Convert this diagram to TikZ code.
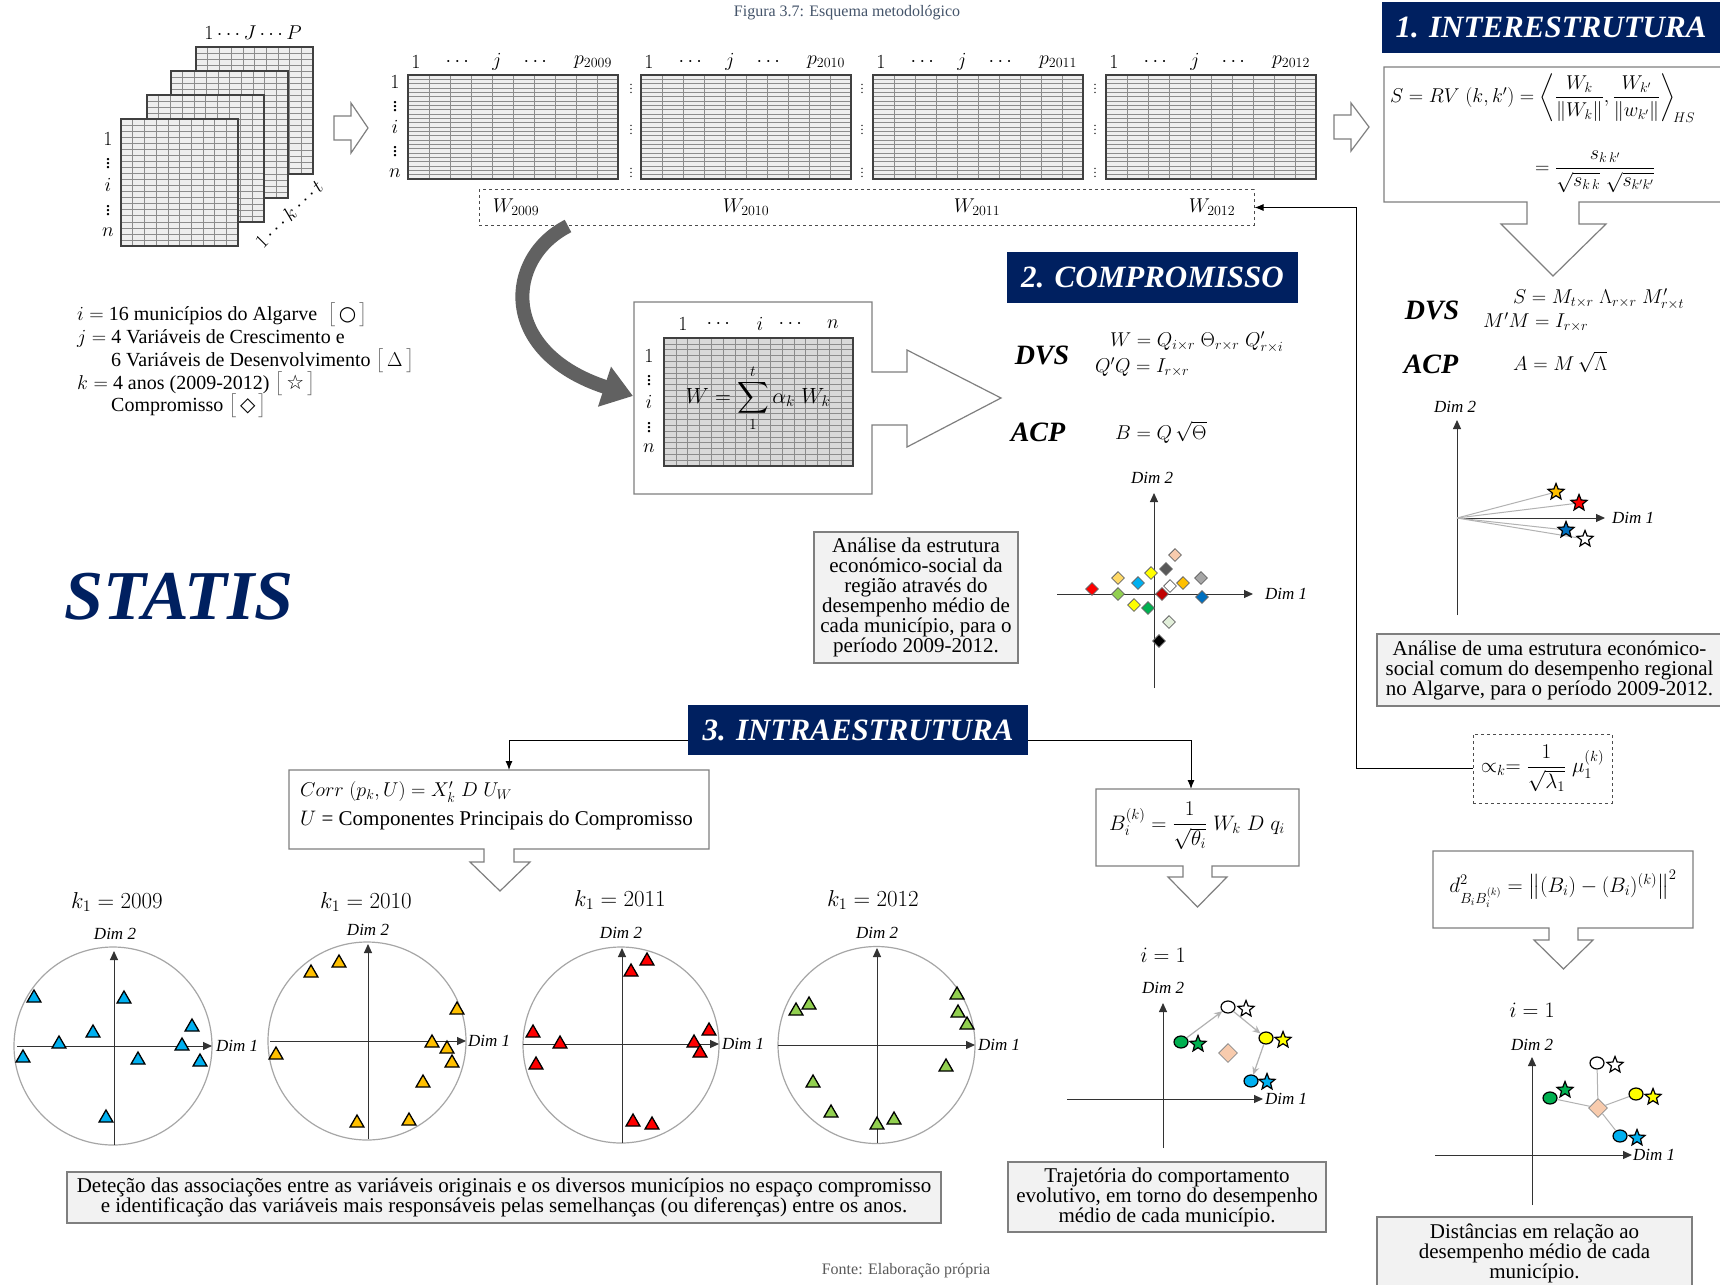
\RequirePackage{fix-cm}
\documentclass[tikz,border=0pt]{standalone}
\usepackage{amsmath,amssymb}
\usepackage{fontspec}
\setmainfont{Liberation Serif}
\newfontfamily\symf{DejaVu Sans}
\usetikzlibrary{shapes.geometric,arrows.meta,calc}
\definecolor{navy}{HTML}{002060}
\definecolor{boxgray}{HTML}{F2F2F2}
\definecolor{edgegray}{HTML}{7F7F7F}
\definecolor{matfill}{HTML}{EEEEEE}
\definecolor{wfill}{HTML}{D9D9D9}
\definecolor{cBlue}{HTML}{00B0F0}
\definecolor{cOrange}{HTML}{FFC000}
\definecolor{cRed}{HTML}{FF0000}
\definecolor{cLGreen}{HTML}{92D050}
\definecolor{cGreen}{HTML}{00B050}
\definecolor{cDBlue}{HTML}{0070C0}
\definecolor{cYellow}{HTML}{FFFF00}
\definecolor{cPeach}{HTML}{F8CBAD}
\definecolor{cGold}{HTML}{FFD966}
\definecolor{cDRed}{HTML}{C00000}
\definecolor{cDGray}{HTML}{595959}
\definecolor{cMGray}{HTML}{A6A6A6}
\definecolor{cPale}{HTML}{E2EFDA}
\definecolor{capcol}{HTML}{44546A}
\newcommand\gridmat[7]{%
  \fill[#7] (#1,#2) rectangle (#3,#4);
  \pgfmathsetmacro\gdx{(#3-#1)/#5}
  \pgfmathsetmacro\gdy{(#4-#2)/#6}
  \foreach \gc in {1,...,#5}{\draw[gridline] ({#1+\gc*\gdx},#2) -- ({#1+\gc*\gdx},#4);}
  \foreach \gr in {1,...,#6}{\draw[gridline] (#1,{#2+\gr*\gdy}) -- (#3,{#2+\gr*\gdy});}
  \draw[gridframe] (#1,#2) rectangle (#3,#4);
}
\newcommand\brk[1]{{\color{black!60}$\bigl[$}\,#1\,{\color{black!60}$\bigr]$}}
\begin{document}
\begin{tikzpicture}[x=1pt,y=-1pt,
  txt/.style={font=\fontsize{20}{21}\selectfont, inner sep=0pt},
  mth/.style={font=\fontsize{20}{21}\selectfont, inner sep=0pt},
  dim/.style={font=\itshape\fontsize{17}{17}\selectfont, inner sep=0pt},
  ttl/.style={fill=navy, text=white, font=\bfseries\itshape\fontsize{31}{32}\selectfont, inner sep=0pt},
  big/.style={font=\bfseries\itshape\fontsize{28}{28}\selectfont, inner sep=0pt},
  note/.style={draw=edgegray, fill=boxgray, line width=1.5pt, align=center, font=\fontsize{21}{20}\selectfont, inner sep=0pt},
  outl/.style={draw=edgegray, line width=1.2pt, fill=white},
  ax/.style={draw=black!80, line width=1pt, -{Triangle[length=9pt,width=8pt]}},
  ring/.style={draw=black!35, line width=1.2pt},
  tri/.style={regular polygon, regular polygon sides=3, draw=black, line width=1.3pt, minimum size=16pt, inner sep=0pt},
  dia/.style={diamond, draw=black!60, line width=0.8pt, minimum size=13pt, inner sep=0pt},
  sta/.style={star, star points=5, star point ratio=2.3, draw=black, line width=1.2pt, minimum size=17pt, inner sep=0pt},
  dot/.style={ellipse, draw=black, line width=1.2pt, minimum width=14pt, minimum height=12pt, inner sep=0pt},
  gridline/.style={draw=black!45, line width=0.6pt},
  gridframe/.style={draw=black!75, line width=1.2pt},
  conn/.style={draw=black, line width=1pt, -{Latex[length=9pt,width=7pt]}},
  ray/.style={draw=black!30, line width=1pt},
  garrow/.style={draw=black!30, line width=1.2pt, -{Stealth[length=8pt,width=7pt]}}
]
\useasboundingbox (0,0) rectangle (1720,1284);
\fill[white] (0,0) rectangle (1720,1284);

% captions
\node[font=\fontsize{16}{16}\selectfont, text=capcol] (cap) at (847,13) {Figura 3.7: Esquema metodológico};
\node[font=\fontsize{16}{16}\selectfont, text=black!65] (src) at (906,1271) {Fonte: Elaboração própria};

% stacked matrices
\gridmat{196}{47}{313}{174}{10}{21}{matfill}
\gridmat{171}{71}{288}{198}{10}{21}{matfill}
\gridmat{147}{95}{264}{222}{10}{21}{matfill}
\gridmat{121}{119}{238}{246}{10}{21}{matfill}
\node[mth] (jl) at (253,33) {$1\cdots J\cdots P$};
\node[mth] (sr1) at (108,139) {$1$};
\node[mth] (sr2) at (108,161) {$\vdots$};
\node[mth] (sr3) at (108,185) {$i$};
\node[mth] (sr4) at (108,208) {$\vdots$};
\node[mth] (sr5) at (108,232) {$n$};
\node[mth, rotate=45] (kl) at (289,214) {$1\cdots k\cdots t$};
\draw[outl] (334,116) -- (351,116) -- (351,103) -- (368,128) -- (351,153) -- (351,140) -- (334,140) -- cycle;

% legend
\node[txt, anchor=west] (l1) at (77,315) {$i=$ 16 municípios do Algarve \ \brk{{\symf ○}}};
\node[txt, anchor=west] (l2) at (77,338) {$j=$ 4 Variáveis de Crescimento e};
\node[txt, anchor=west] (l3) at (111,361) {6 Variáveis de Desenvolvimento \brk{$\Delta$}};
\node[txt, anchor=west] (l4) at (77,384) {$k=$ 4 anos (2009-2012) \brk{{\symf ☆}}};
\node[txt, anchor=west] (l5) at (111,406) {Compromisso \brk{{\symf ◇}}};

% wide matrices
\foreach \yr/\x in {2009/408,2010/641,2011/873,2012/1106}{
  \gridmat{\x}{75}{\x+210}{179}{10}{24}{matfill}
  \node[mth] (ca\yr) at (\x+8,62) {$1$};
  \node[mth] (cb\yr) at (\x+51,62) {$\cdots$};
  \node[mth] (cc\yr) at (\x+89,62) {$j$};
  \node[mth] (cd\yr) at (\x+129,62) {$\cdots$};
  \node[mth] (ce\yr) at (\x+185,62) {$p_{\yr}$};
}
\node[mth] (wr1) at (395,82) {$1$};
\node[mth] (wr2) at (395,104) {$\vdots$};
\node[mth] (wr3) at (395,127) {$i$};
\node[mth] (wr4) at (395,149) {$\vdots$};
\node[mth] (wr5) at (395,173) {$n$};
\foreach \sx in {631,862,1095}{
  \foreach \sy in {86,127,170}{
    \node[font=\fontsize{12}{12}\selectfont, inner sep=0pt] at (\sx,\sy) {$\vdots$};
  }
}
\node[draw=black!70, dashed, line width=1pt, minimum width=775, minimum height=35, inner sep=0pt] (wbox) at (866.5,207.5) {};
\node[mth] (w09) at (516,207) {$W_{2009}$};
\node[mth] (w10) at (746,207) {$W_{2010}$};
\node[mth] (w11) at (977,207) {$W_{2011}$};
\node[mth] (w12) at (1212,207) {$W_{2012}$};
\draw[outl] (1334,115) -- (1351,115) -- (1351,103) -- (1369,127) -- (1351,151) -- (1351,139) -- (1334,139) -- cycle;

% 1. INTERESTRUTURA
\node[ttl, minimum width=338, minimum height=51] (t1) at (1551,27.5) {1. INTERESTRUTURA};
\draw[outl] (1384,67) -- (1722,67) -- (1722,202) -- (1579,202) -- (1579,224) -- (1606,224) -- (1553,276) -- (1501,224) -- (1527,224) -- (1527,202) -- (1384,202) -- cycle;
\node[mth, anchor=west] (s1) at (1390,98) {$S = RV\;(k,k') = \left\langle \dfrac{W_k}{\|W_k\|}, \dfrac{W_{k'}}{\|w_{k'}\|}\right\rangle_{\!HS}$};
\node[mth, anchor=west] (s2) at (1535,172) {$= \dfrac{s_{k\,k'}}{\sqrt{s_{k\,k}}\;\sqrt{s_{k'k'}}}$};
\node[big] (dvs1) at (1432,310) {DVS};
\node[mth, anchor=west] (f1a) at (1513,299) {$S = M_{t\times r}\;\Lambda_{r\times r}\;M'_{r\times t}$};
\node[mth, anchor=west] (f1b) at (1483,322) {$M'M = I_{r\times r}$};
\node[big] (acp1) at (1431,364) {ACP};
\node[mth, anchor=west] (f1c) at (1513,362) {$A = M\,\sqrt{\Lambda}$};

\coordinate (o1) at (1457,518);
\draw[ax] (1457,615) -- (1457,420);
\draw[ax] (o1) -- (1605,518);
\node[dim] (d2a) at (1455,407) {Dim 2};
\node[dim, anchor=west] (d1a) at (1612,518) {Dim 1};
\coordinate (sa) at (1556,492);
\coordinate (sb) at (1579,503);
\coordinate (sc) at (1566,530);
\coordinate (sd) at (1585,539);
\draw[ray] (o1) -- (sa);
\draw[ray] (o1) -- (sb);
\draw[ray] (o1) -- (sc);
\draw[ray] (o1) -- (sd);
\node[sta, fill=cOrange] (nsa) at (sa) {};
\node[sta, fill=cRed] (nsb) at (sb) {};
\node[sta, fill=cDBlue] (nsc) at (sc) {};
\node[sta, fill=white] (nsd) at (sd) {};
\node[note, minimum width=345, minimum height=72] (n1) at (1549.5,670) {Análise de uma estrutura económico-\\social comum do desempenho regional\\no Algarve, para o período 2009-2012.};
\node[font=\fontsize{21}{21}\selectfont, inner sep=0pt, draw=black!70, dashed, line width=1pt, minimum width=139, minimum height=69] (alpha) at (1542.5,768.5) {$\propto_k = \dfrac{1}{\sqrt{\lambda_1}}\;\mu_1^{(k)}$};
\coordinate (wturn) at (1356,207.5);
\draw[conn] (alpha.west) -| (wturn) -- (wbox.east);

% 2. COMPROMISSO
\node[ttl, minimum width=291, minimum height=51] (t2) at (1152.5,277.5) {2. COMPROMISSO};
\node[big] (dvs2) at (1042,355) {DVS};
\node[mth, anchor=west] (f2a) at (1110,342) {$W = Q_{i\times r}\;\Theta_{r\times r}\;Q'_{r\times i}$};
\node[mth, anchor=west] (f2b) at (1095,367) {$Q'Q = I_{r\times r}$};
\node[big] (acp2) at (1038,432) {ACP};
\node[mth, anchor=west] (f2c) at (1115,432) {$B = Q\,\sqrt{\Theta}$};
\draw[ax] (1154,688) -- (1154,493);
\draw[ax] (1057,594) -- (1253,594);
\node[dim] (d2b) at (1152,478) {Dim 2};
\node[dim, anchor=west] (d1b) at (1265,594) {Dim 1};
\foreach \px/\py/\cc [count=\n] in {1175/555/cPeach,1166/569/cDGray,1151/573/cYellow,1118/578/cGold,1138/583/cBlue,1170/586/white,1183/583/cOrange,1201/578/cMGray,1092/589/cRed,1118/594/cLGreen,1162/594/cDRed,1202/597/cDBlue,1134/605/cYellow,1148/608/cGreen,1169/622/cPale,1159/641/black}{
  \node[dia, fill=\cc] (dm\n) at (\px,\py) {};
}
\node[note, minimum width=204, minimum height=131] (n2) at (916,597.5) {Análise da estrutura\\económico-social da\\região através do\\desempenho médio de\\cada município, para o\\período 2009-2012.};

% W compromise box
\draw[outl] (634,302) -- (872,302) -- (872,372) -- (907,372) -- (907,350) -- (1001,398) -- (907,447) -- (907,425) -- (872,425) -- (872,494) -- (634,494) -- cycle;
\gridmat{664}{338}{853}{466}{16}{22}{wfill}
\node[mth] (wc1) at (683,324) {$1$};
\node[mth] (wc2) at (720,324) {$\cdots$};
\node[mth] (wc3) at (760,324) {$i$};
\node[mth] (wc4) at (792,324) {$\cdots$};
\node[mth] (wc5) at (833,324) {$n$};
\node[mth] (wq1) at (649,356) {$1$};
\node[mth] (wq2) at (649,378) {$\vdots$};
\node[mth] (wq3) at (649,402) {$i$};
\node[mth] (wq4) at (649,425) {$\vdots$};
\node[mth] (wq5) at (649,448) {$n$};
\node[font=\fontsize{22}{22}\selectfont, inner sep=0pt] (wf) at (758,398) {$\displaystyle W = \sum_{1}^{t} \alpha_k\;W_k$};
\coordinate (ctail) at (568,226);
\coordinate (chead) at (633,396);
\draw[line width=14pt, draw=black!62, -{Triangle[length=30pt,width=40pt]}] (ctail) .. controls (505,258) and (498,352) .. (chead);

% STATIS
\node[font=\bfseries\itshape\fontsize{70}{70}\selectfont, text=navy, inner sep=0pt] (statis) at (179,597) {STATIS};

% 3. INTRAESTRUTURA
\node[ttl, minimum width=340, minimum height=50] (t3) at (858,730) {3. INTRAESTRUTURA};
\draw[outl] (289,770) -- (709,770) -- (709,849) -- (514,849) -- (514,862) -- (530,862) -- (500,891) -- (470,862) -- (484,862) -- (484,849) -- (289,849) -- cycle;
\node[mth, anchor=west] (c1) at (300,792) {$Corr\;(p_k,U) = X'_k\;D\;U_W$};
\node[font=\fontsize{21}{21}\selectfont, inner sep=0pt, anchor=west] (c2) at (300,820) {$U$ = Componentes Principais do Compromisso};
\coordinate (corrtop) at (509,770);
\coordinate (btop) at (1191,789);
\coordinate (t3l) at ($(t3.south west)!0.3!(t3.north west)$);
\coordinate (t3r) at ($(t3.south east)!0.3!(t3.north east)$);
\draw[conn] (t3l) -| (corrtop);
\draw[conn] (t3r) -| (btop);

% circle plots
\node[font=\fontsize{23}{23}\selectfont, inner sep=0pt] (k09) at (117,902) {$k_1 = 2009$};
\node[font=\fontsize{23}{23}\selectfont, inner sep=0pt] (k10) at (366,902) {$k_1 = 2010$};
\node[font=\fontsize{23}{23}\selectfont, inner sep=0pt] (k11) at (620,900) {$k_1 = 2011$};
\node[font=\fontsize{23}{23}\selectfont, inner sep=0pt] (k12) at (873,900) {$k_1 = 2012$};
\draw[ring] (113,1046) circle[radius=99];
\draw[ring] (367,1041) circle[radius=99];
\draw[ring] (621,1045) circle[radius=98];
\draw[ring] (876.5,1045) circle[radius=98.5];
\draw[ax] (114,1145) -- (114,951);
\draw[ax] (17,1046) -- (212,1046);
\draw[ax] (368,1139) -- (368,944);
\draw[ax] (270,1041) -- (466,1041);
\draw[ax] (622,1143) -- (622,948);
\draw[ax] (523,1044) -- (719,1044);
\draw[ax] (877,1143) -- (877,948);
\draw[ax] (778,1045) -- (975,1045);
\node[dim] (p1d2) at (115,934) {Dim 2};
\node[dim, anchor=west] (p1d1) at (216,1046) {Dim 1};
\node[dim] (p2d2) at (368,930) {Dim 2};
\node[dim, anchor=west] (p2d1) at (468,1041) {Dim 1};
\node[dim] (p3d2) at (621,933) {Dim 2};
\node[dim, anchor=west] (p3d1) at (722,1044) {Dim 1};
\node[dim] (p4d2) at (877,933) {Dim 2};
\node[dim, anchor=west] (p4d1) at (978,1045) {Dim 1};
\foreach \px/\py [count=\n] in {34/998,124/999,93/1033,192/1027,59/1044,182/1046,23/1058,138/1060,200/1062,106/1118}{
  \node[tri, fill=cBlue] (ta\n) at (\px,\py) {};
}
\foreach \px/\py [count=\n] in {311/973,339/963,457/1010,276/1055,432/1043,447/1049,452/1063,423/1083,357/1123,409/1121}{
  \node[tri, fill=cOrange] (tb\n) at (\px,\py) {};
}
\foreach \px/\py [count=\n] in {631/972,647/961,533/1033,560/1044,536/1065,709/1031,694/1043,700/1053,633/1122,652/1125}{
  \node[tri, fill=cRed] (tc\n) at (\px,\py) {};
}
\foreach \px/\py [count=\n] in {796/1011,809/1005,957/995,958/1013,967/1025,946/1067,813/1083,831/1113,877/1125,894/1120}{
  \node[tri, fill=cLGreen] (td\n) at (\px,\py) {};
}
\node[note, minimum width=874, minimum height=51] (n3) at (504,1197.5) {Deteção das associações entre as variáveis originais e os diversos municípios no espaço compromisso\\e identificação das variáveis mais responsáveis pelas semelhanças (ou diferenças) entre os anos.};

% B box and trajectory
\draw[outl] (1096,789) -- (1299,789) -- (1299,866) -- (1212,866) -- (1212,877) -- (1227,877) -- (1197.5,907) -- (1168,877) -- (1183,877) -- (1183,866) -- (1096,866) -- cycle;
\node[font=\fontsize{21}{21}\selectfont, inner sep=0pt] (bf) at (1197,826) {$B_i^{(k)} = \dfrac{1}{\sqrt{\theta_i}}\;W_k\;D\;q_i$};
\node[font=\fontsize{22}{22}\selectfont, inner sep=0pt] (i1a) at (1163,955) {$i = 1$};
\draw[ax] (1163,1148) -- (1163,1003);
\draw[ax] (1067,1099) -- (1263,1099);
\node[dim] (td2) at (1163,988) {Dim 2};
\node[dim, anchor=west] (td1) at (1265,1099) {Dim 1};
\node[dia, fill=cPeach, draw=black!45, minimum size=19pt] (tdm) at (1228,1053) {};
\node[dot, fill=cGreen] (tg) at (1181,1042) {};
\node[sta, fill=cGreen] (tgs) at (1198,1044) {};
\node[dot, fill=white] (tw) at (1228,1007) {};
\node[sta, fill=white] (tws) at (1246,1009) {};
\node[dot, fill=cYellow] (ty) at (1266,1038) {};
\node[sta, fill=cYellow] (tys) at (1283,1040) {};
\node[dot, fill=cBlue] (tb) at (1251,1081) {};
\node[sta, fill=cBlue] (tbs) at (1267,1082) {};
\draw[garrow] (tg) -- (tw);
\draw[garrow] (tw) -- (ty);
\draw[garrow] (ty) -- (tb);
\node[note, minimum width=318, minimum height=70] (n4) at (1167,1197) {Trajetória do comportamento\\evolutivo, em torno do desempenho\\médio de cada município.};

% d box and distances
\draw[outl] (1433,851) -- (1693,851) -- (1693,928) -- (1578,928) -- (1578,940) -- (1593,940) -- (1563.5,969) -- (1534,940) -- (1549,940) -- (1549,928) -- (1433,928) -- cycle;
\node[font=\fontsize{21}{21}\selectfont, inner sep=0pt] (df) at (1563,889) {$d^2_{B_iB_i^{(k)}} = \bigl\|(B_i)-(B_i)^{(k)}\bigr\|^2$};
\node[font=\fontsize{22}{22}\selectfont, inner sep=0pt] (i1b) at (1532,1010) {$i = 1$};
\draw[ax] (1532,1205) -- (1532,1057);
\draw[ax] (1435,1155) -- (1632,1155);
\node[dim] (dd2) at (1532,1045) {Dim 2};
\node[dim, anchor=west] (dd1) at (1633,1155) {Dim 1};
\node[dia, fill=cPeach, draw=black!45, minimum size=19pt] (ddm) at (1598,1108) {};
\node[dot, fill=white] (dw) at (1597,1063) {};
\node[sta, fill=white] (dws) at (1615,1065) {};
\node[dot, fill=cGreen] (dg) at (1550,1098) {};
\node[sta, fill=cGreen] (dgs) at (1565,1090) {};
\node[dot, fill=cYellow] (dy) at (1636,1094) {};
\node[sta, fill=cYellow] (dys) at (1653,1097) {};
\node[dot, fill=cBlue] (db) at (1620,1136) {};
\node[sta, fill=cBlue] (dbs) at (1637,1138) {};
\draw[ray] (ddm) -- (dw);
\draw[ray] (ddm) -- (dg);
\draw[ray] (ddm) -- (dy);
\draw[ray] (ddm) -- (db);
\node[note, minimum width=315, minimum height=73] (n5) at (1534.5,1253.5) {Distâncias em relação ao\\desempenho médio de cada\\município.};
\end{tikzpicture}
\end{document}
